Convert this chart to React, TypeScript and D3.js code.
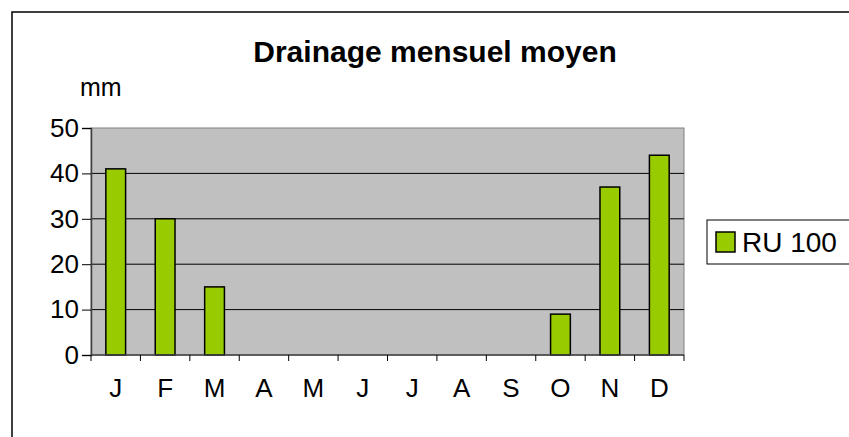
import React, { useEffect, useRef } from 'react';
import * as d3 from 'd3';

// monthly mean drainage, mm (RU 100)
const months = ['J', 'F', 'M', 'A', 'M', 'J', 'J', 'A', 'S', 'O', 'N', 'D'];
const drainage = [41, 30, 15, 0, 0, 0, 0, 0, 0, 9, 37, 44];
const yTicks = [0, 10, 20, 30, 40, 50];
const seriesName = 'RU 100';
const chartTitle = 'Drainage mensuel moyen';
const unitLabel = 'mm';

const App = () => {
  const svgRef = useRef<SVGSVGElement>(null);

  useEffect(() => {
    const W = 849;
    const H = 437;
    const margin = { top: 128, right: 165, bottom: 82, left: 91 };
    const width = W - margin.left - margin.right;
    const height = H - margin.top - margin.bottom;
    const font = '"Liberation Sans", Arial, sans-serif';

    const svg = d3.select(svgRef.current);
    svg.selectAll('*').remove();

    // outer chart border (right/bottom edges run off the picture)
    svg.append('rect')
      .attr('x', 12).attr('y', 12)
      .attr('width', W + 10).attr('height', H + 10)
      .attr('fill', 'white').attr('stroke', 'black').attr('stroke-width', 1.5);

    const x = d3.scaleBand<number>()
      .domain(d3.range(months.length))
      .range([0, width])
      .paddingInner(0.6)
      .paddingOuter(0.3);
    const xb = d3.scaleBand<number>().domain(d3.range(months.length)).range([0, width]);
    const y = d3.scaleLinear().domain([0, 50]).range([height, 0]);

    const g = svg.append('g').attr('transform', `translate(${margin.left},${margin.top})`);

    // plot area
    g.append('rect')
      .attr('width', width).attr('height', height)
      .attr('fill', '#c0c0c0').attr('stroke', '#808080').attr('stroke-width', 1);

    // gridlines
    g.selectAll('line.grid')
      .data(yTicks.filter((t) => t > 0 && t < 50))
      .join('line')
      .attr('class', 'grid')
      .attr('x1', 0).attr('x2', width)
      .attr('y1', (d) => y(d)).attr('y2', (d) => y(d))
      .attr('stroke', 'black').attr('stroke-width', 1);

    // bars
    g.selectAll('rect.bar')
      .data(drainage)
      .join('rect')
      .attr('class', 'bar')
      .attr('x', (_, i) => x(i)!)
      .attr('width', x.bandwidth())
      .attr('y', (d) => y(d))
      .attr('height', (d) => height - y(d))
      .attr('fill', '#99cc00')
      .attr('stroke', 'black')
      .attr('stroke-width', 1.5)
      .attr('display', (d) => (d > 0 ? null : 'none'));

    // y axis
    const yAxis = g.append('g')
      .call(d3.axisLeft(y).tickValues(yTicks).tickSize(9).tickPadding(3).tickFormat(d3.format('d')));
    yAxis.select('.domain').attr('stroke', '#404040').attr('stroke-width', 1.5);
    yAxis.selectAll('.tick line').attr('stroke', 'black');
    yAxis.selectAll('text').attr('font-family', font).attr('font-size', 26).attr('fill', 'black');

    // x axis: ticks between categories
    const xAxisG = g.append('g').attr('transform', `translate(0,${height})`);
    xAxisG.append('line')
      .attr('x1', 0).attr('x2', width)
      .attr('stroke', '#404040').attr('stroke-width', 1.5);
    xAxisG.selectAll('line.tk')
      .data(d3.range(months.length + 1))
      .join('line')
      .attr('class', 'tk')
      .attr('x1', (d) => (d < months.length ? xb(d)! : width))
      .attr('x2', (d) => (d < months.length ? xb(d)! : width))
      .attr('y1', 0).attr('y2', 6)
      .attr('stroke', 'black');
    xAxisG.selectAll('text')
      .data(months)
      .join('text')
      .attr('x', (_, i) => xb(i)! + xb.bandwidth() / 2)
      .attr('y', 42)
      .attr('text-anchor', 'middle')
      .attr('font-family', font).attr('font-size', 26)
      .text((d) => d);

    // title and unit
    svg.append('text')
      .attr('x', 435).attr('y', 62)
      .attr('text-anchor', 'middle')
      .attr('font-family', font).attr('font-size', 30).attr('font-weight', 'bold')
      .text(chartTitle);
    svg.append('text')
      .attr('x', 80).attr('y', 96)
      .attr('font-family', font).attr('font-size', 25)
      .text(unitLabel);

    // legend
    const legend = svg.append('g').attr('transform', 'translate(707,220)');
    legend.append('rect')
      .attr('width', 160).attr('height', 44)
      .attr('fill', 'white').attr('stroke', 'black').attr('stroke-width', 1);
    legend.append('rect')
      .attr('x', 9).attr('y', 12).attr('width', 19).attr('height', 20)
      .attr('fill', '#99cc00').attr('stroke', 'black').attr('stroke-width', 1.5);
    legend.append('text')
      .attr('x', 35).attr('y', 32)
      .attr('font-family', font).attr('font-size', 28)
      .text(seriesName);
  }, []);

  return (
    <svg ref={svgRef} width={849} height={437} style={{ position: 'absolute', left: 0, top: 0 }} />
  );
};

export default App;
